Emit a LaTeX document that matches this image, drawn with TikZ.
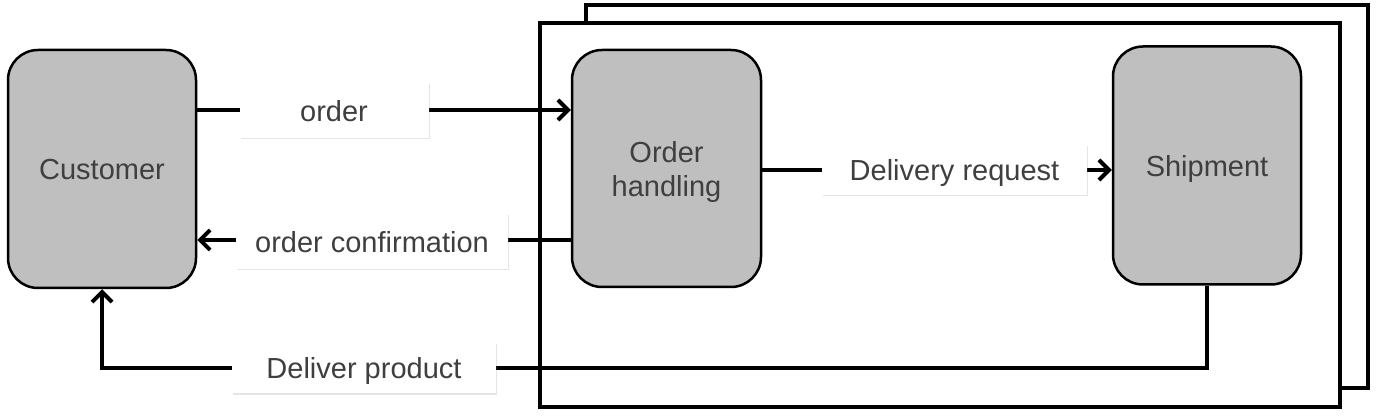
\documentclass[tikz,border=0pt]{standalone}
\usepackage{fontspec}
\setmainfont{Liberation Sans}
\usetikzlibrary{arrows.meta,shadows}
\definecolor{boxgray}{HTML}{BFBFBF}
\definecolor{txt}{HTML}{3F3F3F}
\begin{document}
\begin{tikzpicture}[x=1pt,y=-1pt,
  proc/.style={draw=black,line width=2.5pt,fill=boxgray,rounded corners=30pt,
    minimum width=188pt,minimum height=238pt,text=txt,text depth=0pt,
    font=\fontsize{29}{34}\selectfont,align=center,inner sep=0pt},
  lbl/.style={fill=white,text=txt,font=\fontsize{29}{34}\selectfont,inner sep=0pt,text depth=0pt,
    drop shadow={shadow xshift=1pt,shadow yshift=-1.5pt,opacity=0.2,fill=gray}},
  frame/.style={draw=black,line width=3.5pt,fill=white,inner sep=0pt,
    drop shadow={shadow xshift=1.5pt,shadow yshift=-2pt,opacity=0.15,fill=gray}},
  arr/.style={line width=4pt,-{Straight Barb[length=10pt,width=20pt]}}]
\useasboundingbox[fill=white] (0,0) rectangle (1378,419);
% frames
\node[frame,minimum width=782pt,minimum height=383pt] (back) at (977,196.5) {};
\node[frame,minimum width=800pt,minimum height=384pt] (front) at (940,215) {};
% processes
\node[proc] (cust) at (102,169) {Customer};
\node[proc,minimum width=189pt,minimum height=237pt] (oh) at (666.5,168.5) {Order\\handling};
\node[proc] (ship) at (1207,165.5) {Shipment};
% connectors
\draw[arr] ([yshift=59pt]cust.east) -- ([yshift=58.5pt]oh.west);
\draw[arr] ([yshift=-71.5pt]oh.west) -- ([yshift=-71pt]cust.east);
\draw[arr] ([yshift=-1.5pt]oh.east) -- ([yshift=-4.5pt]ship.west);
\coordinate (dp) at (0,368);
\draw[arr] (ship.south) -- (ship.south |- dp) -| (cust.south);
% labels
\node[lbl,minimum width=189pt,minimum height=55pt] (l1) at (334,110.5) {order};
\node[lbl,minimum width=272pt,minimum height=55pt] (l2) at (372,241.5) {order confirmation};
\node[lbl,minimum width=265pt,minimum height=50pt] (l3) at (954.5,170) {Delivery request};
\node[lbl,minimum width=264pt,minimum height=50pt] (l4) at (364,368) {Deliver product};
\end{tikzpicture}
\end{document}
